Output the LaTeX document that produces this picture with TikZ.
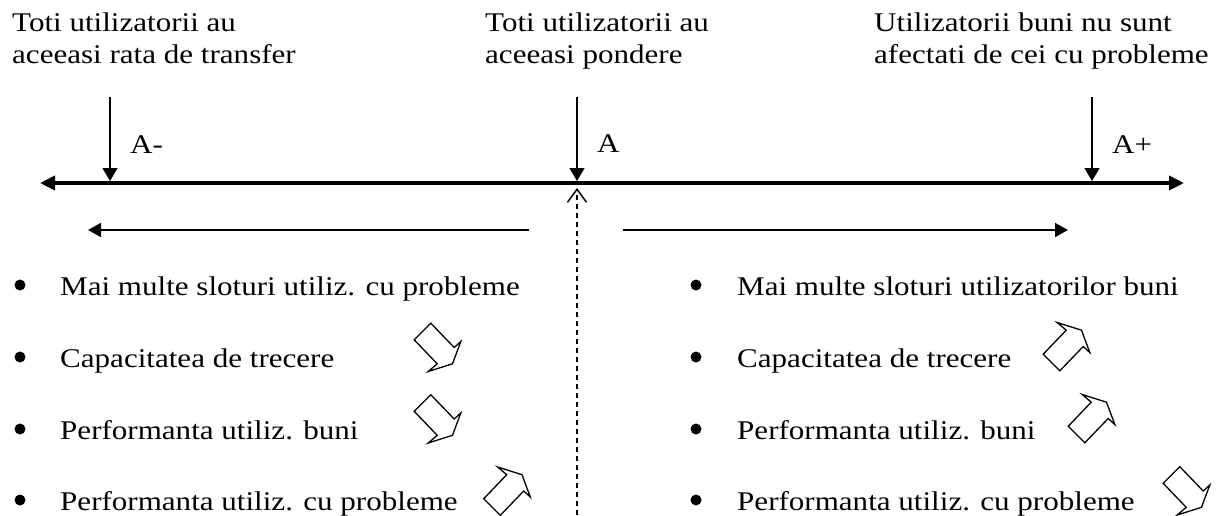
\documentclass[tikz,border=0pt]{standalone}
\usepackage{fontspec}
\setmainfont[FakeStretch=1.15]{Liberation Serif}
\usetikzlibrary{arrows.meta}
\tikzset{
  txt/.style={anchor=base west, inner sep=0pt, font=\fontsize{27}{32}\selectfont},
  bul/.style={circle, fill=black, inner sep=0pt, minimum size=11pt},
  thinarr/.style={line width=1.3pt, -{Triangle[length=13pt,width=15pt]}},
  midarr/.style={line width=1.6pt, -{Triangle[length=13pt,width=14pt]}},
  axisline/.style={line width=4pt, {Triangle[length=15pt,width=14pt]}-{Triangle[length=15pt,width=14pt]}},
  dasharr/.style={line width=1.3pt, dash pattern=on 5pt off 4pt, -{Straight Barb[length=13pt,width=19pt,line width=1.5pt]}},
  blk/.style={line width=1.3pt, line join=miter, fill=white},
  downarr/.pic={\draw[blk] (-23.3,-7.7) -- (-6.7,-24.3) -- (16.7,0) -- (23.3,-6) -- (15,16.3) -- (-9.3,24) -- (-0.3,16.3) -- cycle;},
  uparr/.pic={\draw[blk] (-23.3,7.7) -- (-6.7,24.3) -- (16.7,0) -- (23.3,6) -- (15,-16.3) -- (-9.3,-24) -- (-0.3,-16.3) -- cycle;}
}
\begin{document}
\begin{tikzpicture}[x=1pt,y=-1pt]
\useasboundingbox (0,0) rectangle (1218,515);
% top texts
\node[txt] (tl1) at (12,31) {Toti utilizatorii au};
\node[txt] (tl2) at (12,63) {aceeasi rata de transfer};
\node[txt] (tm1) at (485,31) {Toti utilizatorii au};
\node[txt] (tm2) at (485,63) {aceeasi pondere};
\node[txt] (tr1) at (874,31) {Utilizatorii buni nu sunt};
\node[txt] (tr2) at (874,63) {afectati de cei cu probleme};
% axis
\coordinate (axL) at (40,183);
\coordinate (axR) at (1184,183);
\draw[axisline] (axL) -- (axR);
% vertical arrows
\coordinate (amT) at (110,97);  \coordinate (amB) at (110,181);
\coordinate (a0T) at (577,97);  \coordinate (a0B) at (577,181);
\coordinate (apT) at (1092,97); \coordinate (apB) at (1092,181);
\draw[thinarr] (amT) -- (amB);
\draw[thinarr] (a0T) -- (a0B);
\draw[thinarr] (apT) -- (apB);
\node[txt] (lAm) at (130,153) {A-};
\node[txt] (lA0) at (597,152) {A};
\node[txt] (lAp) at (1112,153) {A+};
% dashed arrow
\coordinate (dB) at (577,515);
\coordinate (dT) at (577,188);
\draw[dasharr] (dB) -- (dT);
% direction arrows
\coordinate (hl1) at (529,230); \coordinate (hl2) at (88,230);
\coordinate (hr1) at (623,230); \coordinate (hr2) at (1068,230);
\draw[midarr] (hl1) -- (hl2);
\draw[midarr] (hr1) -- (hr2);
% left bullets
\node[bul] (bl1) at (20,285) {};
\node[bul] (bl2) at (20,357) {};
\node[bul] (bl3) at (20,429) {};
\node[bul] (bl4) at (20,500) {};
\node[txt] (xl1) at (60,295) {Mai multe sloturi utiliz. cu probleme};
\node[txt] (xl2) at (60,367) {Capacitatea de trecere};
\node[txt] (xl3) at (60,439) {Performanta utiliz. buni};
\node[txt] (xl4) at (60,510) {Performanta utiliz. cu probleme};
% right bullets
\node[bul] (br1) at (696,285) {};
\node[bul] (br2) at (696,357) {};
\node[bul] (br3) at (696,429) {};
\node[bul] (br4) at (696,500) {};
\node[txt] (xr1) at (737,295) {Mai multe sloturi utilizatorilor buni};
\node[txt] (xr2) at (737,367) {Capacitatea de trecere};
\node[txt] (xr3) at (737,439) {Performanta utiliz. buni};
\node[txt] (xr4) at (737,510) {Performanta utiliz. cu probleme};
% block arrows
\pic (kl2) at (437.5,347.5) {downarr};
\pic (kl3) at (437.5,419) {downarr};
\pic (kl4) at (507,491) {uparr};
\pic (kr2) at (1066.5,346.5) {uparr};
\pic (kr3) at (1091.5,418.5) {uparr};
\pic (kr4) at (1186.5,491) {downarr};
\end{tikzpicture}
\end{document}
